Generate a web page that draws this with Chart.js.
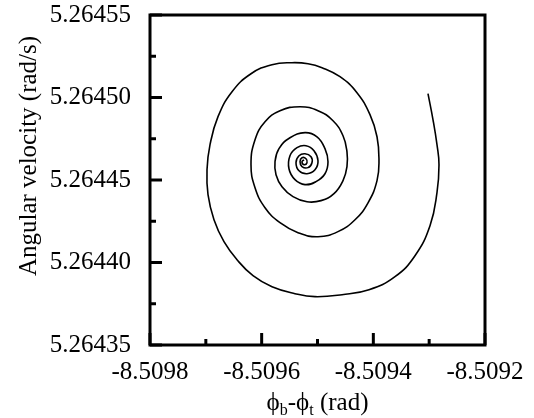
<!DOCTYPE html>
<html>
<head>
<meta charset="utf-8">
<title>Phase portrait</title>
<script src="https://cdn.jsdelivr.net/npm/chart.js@4.4.0/dist/chart.umd.min.js"></script>
<style>
  html, body { margin: 0; padding: 0; background: #fff; }
  #wrap { width: 534px; height: 418px; }
</style>
</head>
<body>
<div id="wrap"><canvas id="myChart" width="534" height="418"></canvas></div>
<script>
// relative angle phi_b - phi_t (rad)
const phaseAngle = [
  -8.5093021, -8.5092931, -8.5092860, -8.5092824, -8.5092860, -8.5092985, -8.5093254, -8.5093612,
  -8.5094078, -8.5094561, -8.5095045, -8.5095403, -8.5095815, -8.5096155, -8.5096442, -8.5096675,
  -8.5096854, -8.5096961, -8.5096979, -8.5096925, -8.5096782, -8.5096531, -8.5096191, -8.5095815,
  -8.5095457, -8.5095170, -8.5094919, -8.5094597, -8.5094293, -8.5094060, -8.5093934, -8.5093899,
  -8.5093934, -8.5094095, -8.5094328, -8.5094633, -8.5094991, -8.5095349, -8.5095672, -8.5095940,
  -8.5096119, -8.5096191, -8.5096119, -8.5095940, -8.5095672, -8.5095313, -8.5094991, -8.5094722,
  -8.5094543, -8.5094472, -8.5094472, -8.5094543, -8.5094705, -8.5094937, -8.5095188, -8.5095439,
  -8.5095636, -8.5095743, -8.5095761, -8.5095690, -8.5095493, -8.5095224, -8.5095009, -8.5094866,
  -8.5094812, -8.5094866, -8.5095027, -8.5095224, -8.5095403, -8.5095511, -8.5095493, -8.5095367,
  -8.5095206, -8.5095063, -8.5094991, -8.5095045, -8.5095188, -8.5095331, -8.5095385, -8.5095331,
  -8.5095224, -8.5095116, -8.5095099, -8.5095170, -8.5095278, -8.5095313, -8.5095278, -8.5095206,
  -8.5095188, -8.5095242, -8.5095278, -8.5095242
];

// angular velocity (rad/s)
const angularVelocity = [
  5.2645023, 5.2644865, 5.2644714, 5.2644593, 5.2644423, 5.2644223, 5.2644041, 5.2643914,
  5.2643835, 5.2643805, 5.2643793, 5.2643811, 5.2643853, 5.2643920, 5.2644017, 5.2644126,
  5.2644259, 5.2644411, 5.2644562, 5.2644714, 5.2644884, 5.2645035, 5.2645144, 5.2645199,
  5.2645211, 5.2645205, 5.2645181, 5.2645126, 5.2645029, 5.2644896, 5.2644762, 5.2644623,
  5.2644496, 5.2644362, 5.2644259, 5.2644187, 5.2644156, 5.2644181, 5.2644241, 5.2644332,
  5.2644453, 5.2644593, 5.2644744, 5.2644853, 5.2644920, 5.2644944, 5.2644920, 5.2644859,
  5.2644768, 5.2644671, 5.2644581, 5.2644496, 5.2644417, 5.2644375, 5.2644368, 5.2644399,
  5.2644459, 5.2644532, 5.2644611, 5.2644690, 5.2644756, 5.2644787, 5.2644762, 5.2644690,
  5.2644611, 5.2644538, 5.2644490, 5.2644472, 5.2644502, 5.2644568, 5.2644647, 5.2644696,
  5.2644708, 5.2644678, 5.2644617, 5.2644562, 5.2644538, 5.2644556, 5.2644605, 5.2644647,
  5.2644659, 5.2644641, 5.2644605, 5.2644575, 5.2644581, 5.2644611, 5.2644635, 5.2644629,
  5.2644605, 5.2644593, 5.2644611, 5.2644623
];

const xTicks = [-8.5098, -8.5097, -8.5096, -8.5095, -8.5094, -8.5093, -8.5092];
const xTickLabels = ['-8.5098', '', '-8.5096', '', '-8.5094', '', '-8.5092'];
const yTicks = [5.26435, 5.264375, 5.2644, 5.264425, 5.26445, 5.264475, 5.2645, 5.264525, 5.26455];
const yTickLabels = ['5.26435', '', '5.26440', '', '5.26445', '', '5.26450', '', '5.26455'];

const serif = '"Liberation Serif", "Times New Roman", serif';

// box frame, inward tick marks and the two axis titles
const frame = {
  id: 'frame',
  afterDraw(chart) {
    const ctx = chart.ctx;
    const a = chart.chartArea;
    const xs = chart.scales.x;
    const ys = chart.scales.y;
    ctx.save();
    ctx.strokeStyle = '#000';
    ctx.lineWidth = 3;
    xs.ticks.forEach((t, i) => {
      const px = xs.getPixelForValue(t.value);
      const len = xTickLabels[i] ? 12 : 6;
      ctx.beginPath();
      ctx.moveTo(px, a.bottom);
      ctx.lineTo(px, a.bottom - len);
      ctx.stroke();
    });
    ys.ticks.forEach((t, i) => {
      const py = ys.getPixelForValue(t.value);
      const len = yTickLabels[i] ? 12 : 6;
      ctx.beginPath();
      ctx.moveTo(a.left, py);
      ctx.lineTo(a.left + len, py);
      ctx.stroke();
    });
    ctx.strokeRect(a.left, a.top, a.right - a.left, a.bottom - a.top);

    ctx.fillStyle = '#000';
    // y title
    ctx.save();
    ctx.font = '25px ' + serif;
    ctx.translate(36, 156);
    ctx.rotate(-Math.PI / 2);
    ctx.textAlign = 'center';
    ctx.textBaseline = 'alphabetic';
    ctx.fillText('Angular velocity (rad/s)', 0, 0);
    ctx.restore();

    // x title with subscripts
    const parts = [
      ['\u03D5', 25, 0], ['b', 16, 5], ['-', 25, 0], ['\u03D5', 25, 0], ['t', 16, 5], [' (rad)', 25, 0]
    ];
    let total = 0;
    parts.forEach(p => { ctx.font = p[1] + 'px ' + serif; total += ctx.measureText(p[0]).width; });
    let x = (a.left + a.right) / 2 - total / 2;
    ctx.textAlign = 'left';
    ctx.textBaseline = 'alphabetic';
    parts.forEach(p => {
      ctx.font = p[1] + 'px ' + serif;
      ctx.fillText(p[0], x, 410 + p[2]);
      x += ctx.measureText(p[0]).width;
    });
    ctx.restore();
  }
};

const ctx = document.getElementById('myChart').getContext('2d');
const points = phaseAngle.map((v, i) => ({ x: v, y: angularVelocity[i] }));

const config = {
  type: 'line',
  data: {
    datasets: [{
      data: points,
      borderColor: '#000',
      borderWidth: 1.6,
      pointRadius: 0,
      tension: 0.45,
      fill: false
    }]
  },
  options: {
    responsive: false,
    animation: false,
    layout: { padding: { top: 15, right: 49, left: 0, bottom: 0 } },
    plugins: { legend: { display: false }, tooltip: { enabled: false } },
    scales: {
      x: {
        type: 'linear',
        min: xTicks[0],
        max: xTicks[xTicks.length - 1],
        grid: { display: false, drawTicks: false },
        border: { display: false },
        afterBuildTicks: s => { s.ticks = xTicks.map(v => ({ value: v })); },
        afterFit: s => { s.height = 73; s.paddingLeft = 0; s.paddingRight = 0; },
        ticks: {
          autoSkip: false,
          maxRotation: 0,
          padding: 12,
          color: '#000',
          font: { family: serif, size: 25 },
          callback: (v, i) => xTickLabels[i]
        }
      },
      y: {
        type: 'linear',
        min: yTicks[0],
        max: yTicks[yTicks.length - 1],
        grid: { display: false, drawTicks: false },
        border: { display: false },
        afterBuildTicks: s => { s.ticks = yTicks.map(v => ({ value: v })); },
        afterFit: s => { s.width = 150; s.paddingTop = 0; s.paddingBottom = 0; },
        ticks: {
          autoSkip: false,
          padding: 19,
          color: '#000',
          font: { family: serif, size: 25 },
          callback: (v, i) => yTickLabels[i]
        }
      }
    }
  },
  plugins: [frame]
};

const myChart = new Chart(ctx, config);
</script>
</body>
</html>
